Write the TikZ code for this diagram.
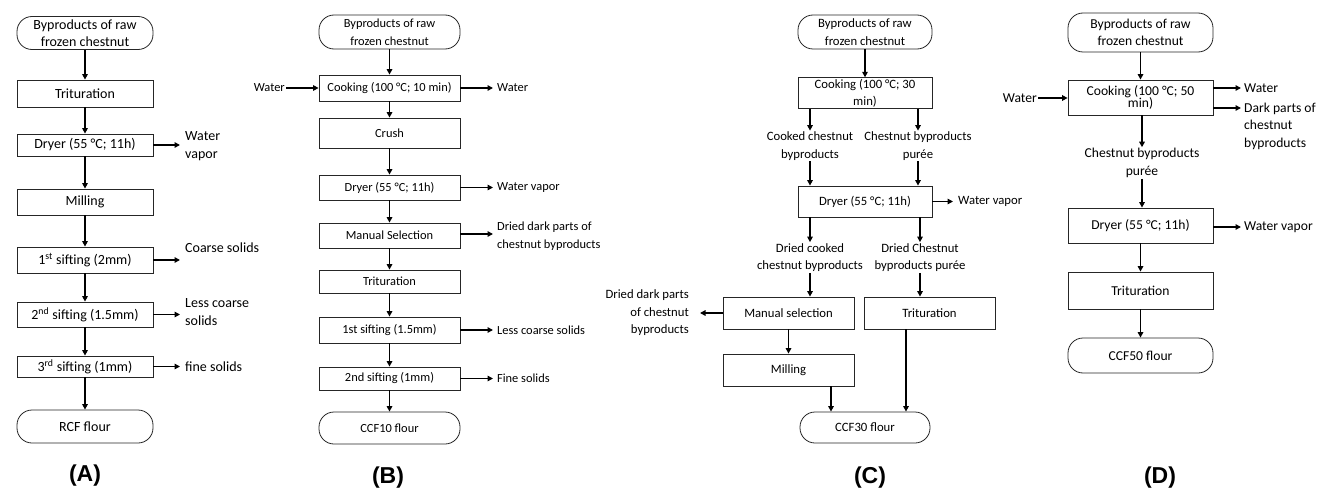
\documentclass[tikz,border=0pt]{standalone}
\usepackage{fontspec}
\setmainfont{Carlito}
\newfontfamily\labfont{Liberation Sans}
\usetikzlibrary{arrows.meta,calc}
\begin{document}
\begin{tikzpicture}[x=1pt,y=-1pt,
  fsz/.style={font=\fontsize{#1}{17.5}\selectfont},
  proc/.style={draw=black!85, line width=0.8pt, inner sep=1pt, align=center, fsz=14},
  term/.style={proc, rounded corners=15pt},
  lab/.style={inner sep=1pt, fsz=14},
  arr/.style={line width=1.5pt, -{Triangle[length=5.5pt,width=5.5pt]}},
  panel/.style={font=\labfont\bfseries\fontsize{23}{26}\selectfont}]
\useasboundingbox (0,0) rectangle (1317,495);

% ---------------- (A) ----------------
\begin{scope}[proc/.append style={minimum width=136pt, fsz=14}, lab/.append style={fsz=14}]
\node[term,minimum height=33pt] (A0) at (85,33) {Byproducts of raw\\frozen chestnut};
\node[proc,minimum height=27pt] (A1) at (85,93.5) {Trituration};
\node[proc,minimum height=22pt] (A2) at (85,145) {Dryer (55 °C; 11h)};
\node[proc,minimum height=26pt] (A3) at (85,202) {Milling};
\node[proc,minimum height=26pt] (A4) at (85,260) {1\textsuperscript{st} sifting (2mm)};
\node[proc,minimum height=25pt] (A5) at (85,314.5) {2\textsuperscript{nd} sifting (1.5mm)};
\node[proc,minimum height=21pt] (A6) at (85,366.5) {3\textsuperscript{rd} sifting (1mm)};
\node[term,minimum height=33pt] (A7) at (85,426.5) {RCF flour};
\foreach \a/\b in {A0/A1,A1/A2,A2/A3,A3/A4,A4/A5,A5/A6,A6/A7} \draw[arr] (\a) -- (\b);
\node[lab,anchor=west,align=left] (Aw) at (184,146) {Water\\vapor};
\node[lab,anchor=west] (Ac) at (184,248) {Coarse solids};
\node[lab,anchor=west,align=left] (Al) at (184,312) {Less coarse\\solids};
\node[lab,anchor=west] (Af) at (184,366.5) {fine solids};
\coordinate (Aw1) at (180,145);
\coordinate (Ac1) at (180,260);
\coordinate (Al1) at (180,314.5);
\coordinate (Af1) at (180,366.5);
\draw[arr] (A2.east) -- (Aw1);
\draw[arr] (A4.east) -- (Ac1);
\draw[arr] (A5.east) -- (Al1);
\draw[arr] (A6.east) -- (Af1);
\end{scope}
\node[panel] (PA) at (85,476) {(A)};

% ---------------- (B) ----------------
\begin{scope}[proc/.append style={minimum width=141pt, fsz=12.4}, lab/.append style={fsz=12.4}]
\node[term,minimum height=34pt] (B0) at (389.5,32) {Byproducts of raw\\frozen chestnut};
\node[proc,minimum height=26pt] (B1) at (389.5,88) {Cooking (100 °C; 10 min)};
\node[proc,minimum height=30pt] (B2) at (389.5,133) {Crush};
\node[proc,minimum height=25pt] (B3) at (389.5,187.5) {Dryer (55 °C; 11h)};
\node[proc,minimum height=25pt] (B4) at (389.5,235.5) {Manual Selection};
\node[proc,minimum height=23pt] (B5) at (389.5,281.5) {Trituration};
\node[proc,minimum height=26pt] (B6) at (389.5,330) {1st sifting (1.5mm)};
\node[proc,minimum height=23pt] (B7) at (389.5,378.5) {2nd sifting (1mm)};
\node[term,minimum height=32pt] (B8) at (389.5,428) {CCF10 flour};
\foreach \a/\b in {B0/B1,B1/B2,B2/B3,B3/B4,B4/B5,B5/B6,B6/B7,B7/B8} \draw[arr] (\a) -- (\b);
\node[lab,anchor=east] (Bwi) at (286,88) {Water};
\draw[arr] (Bwi.east) -- (B1.west);
\node[lab,anchor=west] (Bwo) at (496,88) {Water};
\node[lab,anchor=west] (Bv) at (496,187.5) {Water vapor};
\node[lab,anchor=west,align=left] (Bd) at (496,236) {Dried dark parts of\\chestnut byproducts};
\node[lab,anchor=west] (Bl) at (496,330) {Less coarse solids};
\node[lab,anchor=west] (Bf) at (496,378.5) {Fine solids};
\coordinate (Bwo1) at (493,88);
\coordinate (Bv1) at (493,187.5);
\coordinate (Bd1) at (493,234);
\coordinate (Bl1) at (493,330);
\coordinate (Bf1) at (493,378.5);
\draw[arr] (B1.east) -- (Bwo1);
\draw[arr] (B3.east) -- (Bv1);
\draw[arr] (B4.east |- Bd1) -- (Bd1);
\draw[arr] (B6.east) -- (Bl1);
\draw[arr] (B7.east) -- (Bf1);
\end{scope}
\node[panel] (PB) at (388,478) {(B)};

% ---------------- (C) ----------------
\begin{scope}[proc/.append style={fsz=12.7}, lab/.append style={fsz=12.7}]
\begin{scope}[proc/.append style={minimum width=134pt}]
\node[term,minimum height=34pt] (C0) at (865,32) {Byproducts of raw\\frozen chestnut};
\node[proc,minimum height=30pt] (C1) at (865,93) {Cooking (100 °C; 30\\min)};
\node[proc,minimum height=31pt] (C3) at (865,201.5) {Dryer (55 °C; 11h)};
\end{scope}
\begin{scope}[proc/.append style={minimum width=131pt,minimum height=32pt}]
\node[proc] (C5) at (788.5,313) {Manual selection};
\node[proc] (C6) at (929.5,313) {Trituration};
\node[proc] (C7) at (788.5,370) {Milling};
\end{scope}
\node[term,minimum width=130pt,minimum height=31pt] (C8) at (865,427.5) {CCF30 flour};
\node[lab,align=center] (C2a) at (810,146) {Cooked chestnut\\byproducts};
\node[lab,align=center] (C2b) at (918,146) {Chestnut byproducts\\purée};
\node[lab,align=center] (C4a) at (810,257.5) {Dried cooked\\chestnut byproducts};
\node[lab,align=center] (C4b) at (920,257.5) {Dried Chestnut\\byproducts purée};
\draw[arr] (C0) -- (C1);
\draw[arr] (C2a.north |- C1.south) -- (C2a.north);
\draw[arr] (C2b.north |- C1.south) -- (C2b.north);
\draw[arr] (C2a.south) -- (C2a.south |- C3.north);
\draw[arr] (C2b.south) -- (C2b.south |- C3.north);
\draw[arr] (C4a.north |- C3.south) -- (C4a.north);
\draw[arr] (C4b.north |- C3.south) -- (C4b.north);
\draw[arr] (C4a.south) -- (C4a.south |- C5.north);
\draw[arr] (C4b.south) -- (C4b.south |- C6.north);
\draw[arr] (C5) -- (C7);
\draw[arr] ([xshift=42.5pt]C7.south) -- ([xshift=42.5pt]C7.south |- C8.north);
\draw[arr] ([xshift=-23.5pt]C6.south) -- ([xshift=-23.5pt]C6.south |- C8.north);
\node[lab,anchor=west] (Cv) at (957,201.5) {Water vapor};
\coordinate (Cv1) at (953,201.5);
\draw[arr] (C3.east) -- (Cv1);
\node[lab,anchor=east,align=right] (Cd) at (690,313) {Dried dark parts\\of chestnut\\byproducts};
\coordinate (Cd1) at (700,313);
\draw[arr] (C5.west) -- (Cd1);
\end{scope}
\node[panel] (PC) at (870,478) {(C)};

% ---------------- (D) ----------------
\begin{scope}[proc/.append style={fsz=13.6}, lab/.append style={fsz=13.6}]
\begin{scope}[proc/.append style={minimum width=145pt}]
\node[term,minimum height=39pt] (D0) at (1140.5,32.5) {Byproducts of raw\\frozen chestnut};
\node[proc,minimum height=35pt] (D1) at (1140.5,97.5) {Cooking (100 °C; 50\\[-5pt]min)};
\node[proc,minimum height=35pt] (D3) at (1140.5,225.5) {Dryer (55 °C; 11h)};
\node[proc,minimum height=37pt] (D4) at (1140.5,290.5) {Trituration};
\node[term,minimum height=35pt] (D5) at (1140.5,355.5) {CCF50 flour};
\end{scope}
\node[lab,align=center] (D2) at (1142,163) {Chestnut byproducts\\purée};
\draw[arr] (D0) -- (D1);
\draw[arr] (D2.north |- D1.south) -- (D2.north);
\draw[arr] (D2.south) -- (D2.south |- D3.north);
\draw[arr] (D3) -- (D4);
\draw[arr] (D4) -- (D5);
\node[lab,anchor=east] (Dwi) at (1038,98) {Water};
\draw[arr] (Dwi.east) -- (D1.west |- Dwi.east);
\node[lab,anchor=west,inner sep=0pt] (Dwo) at (1244,88) {Water};
\node[lab,anchor=west,align=left,inner sep=0pt] (Dd) at (1244,126) {Dark parts of\\chestnut\\byproducts};
\node[lab,anchor=west,inner sep=0pt] (Dv) at (1244,227) {Water vapor};
\coordinate (Dwo1) at (1241,88);
\coordinate (Dd1) at (1241,108);
\coordinate (Dv1) at (1241,227);
\draw[arr] (D1.east |- Dwo1) -- (Dwo1);
\draw[arr] (D1.east |- Dd1) -- (Dd1);
\draw[arr] (D3.east |- Dv1) -- (Dv1);
\end{scope}
\node[panel] (PD) at (1160,478) {(D)};
\end{tikzpicture}
\end{document}
